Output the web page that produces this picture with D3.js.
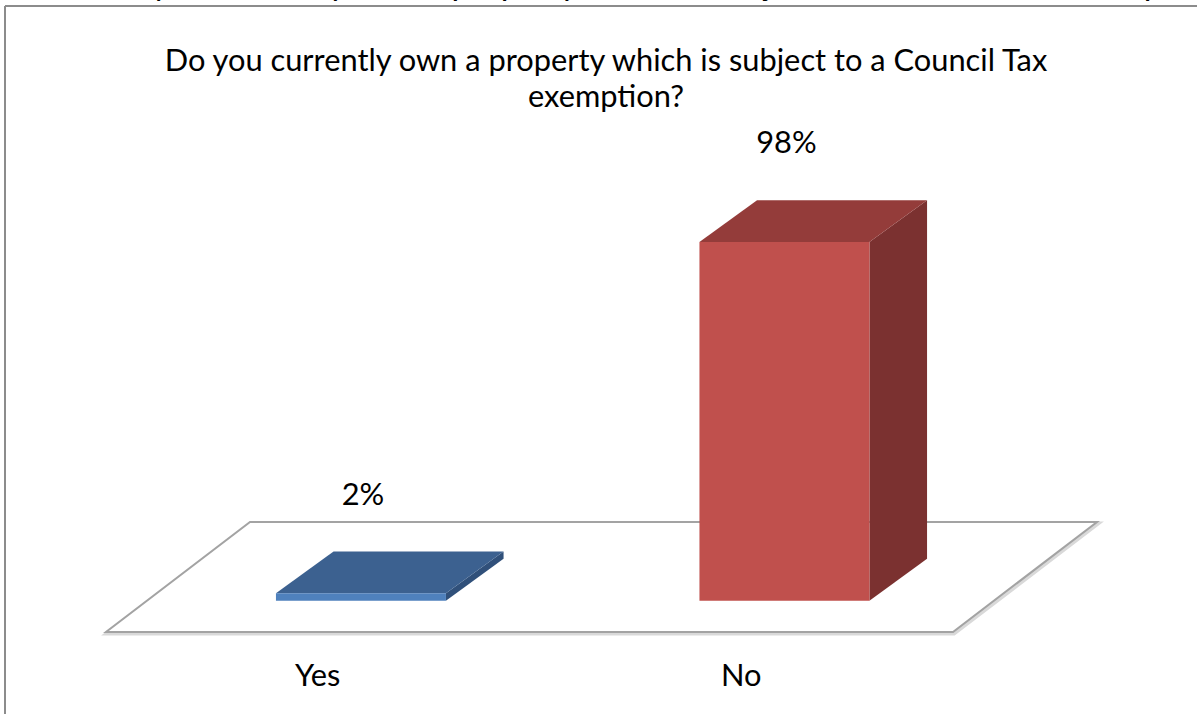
<!DOCTYPE html>
<html>
<head>
<meta charset="utf-8">
<script src="https://cdn.jsdelivr.net/npm/d3@7"></script>
<style>
html,body{margin:0;padding:0;background:#fff;}
svg{display:block;}
</style>
</head>
<body>
<svg id="chart" width="1197" height="714"></svg>
<script>
const categories = ["Yes", "No"];
const values = [2, 98];
const valueLabels = ["2%", "98%"];
const titleLines = ["Do you currently own a property which is subject to a Council Tax", "exemption?"];
const headerText = "Do you currently own a property which is subject to a Council Tax exemption?";

const FONT = "Lato, 'Open Sans', sans-serif";
const svg = d3.select("#chart");

// floor geometry
const floorLeft = 106, floorRight = 953, floorFrontY = 632;
const depthDX = 144, depthDY = 110;
const zFront = 0.30, zBack = 0.70;

const x = d3.scaleBand().domain(categories).range([floorLeft, floorRight]).paddingInner(0).paddingOuter(0);
const barW = 170;
const h = d3.scaleLinear().domain([0, 100]).range([0, 366]);

function proj(px, z, hh) { return [px + z * depthDX, floorFrontY - z * depthDY * 0.95 - hh]; }
function projFloor(px, z) { return [px + z * depthDX, floorFrontY - z * depthDY]; }

// clipped header text (from page above)
const header = svg.append("text").attr("x", 101).attr("y", -5)
  .attr("font-family", FONT).attr("fill", "#000").text(headerText);

// frame
svg.append("line").attr("x1", 5).attr("y1", 6).attr("x2", 1197).attr("y2", 6)
  .attr("stroke", "#8c8c8c").attr("stroke-width", 2);
svg.append("line").attr("x1", 5).attr("y1", 6).attr("x2", 5).attr("y2", 714)
  .attr("stroke", "#8c8c8c").attr("stroke-width", 2);

// title with width fitting
const title = svg.append("text").attr("text-anchor", "middle").attr("font-family", FONT).attr("fill", "#000");
const t1 = title.append("tspan").attr("x", 606).attr("y", 71).text(titleLines[0]);
title.append("tspan").attr("x", 606).attr("y", 107).text(titleLines[1]);
title.attr("font-size", 26);
const len = t1.node().getComputedTextLength();
const fs = 26 * 883 / len;
title.attr("font-size", fs);
header.attr("font-size", fs * 1.083);

// floor
const floorPts = [projFloor(floorLeft, 0), projFloor(floorRight, 0), projFloor(floorRight, 1), projFloor(floorLeft, 1)];
svg.append("polygon").attr("points", floorPts.map(p => p.join(",")).join(" "))
  .attr("fill", "none").attr("stroke", "#d9d9d9").attr("stroke-width", 4).attr("transform", "translate(1,1.5)");
svg.append("polygon").attr("points", floorPts.map(p => p.join(",")).join(" "))
  .attr("fill", "#fff").attr("stroke", "#a3a3a3").attr("stroke-width", 2);

const colors = [
  { front: "#4f81bd", top: "#3c6190", side: "#30507a" },
  { front: "#c0504d", top: "#943c3a", side: "#7b3130" }
];

const g = svg.append("g");
categories.forEach((c, i) => {
  const cx = x(c) + x.bandwidth() / 2;
  const x0 = cx - barW / 2, x1 = cx + barW / 2;
  const hh = h(values[i]);
  const col = colors[i];
  const poly = pts => pts.map(p => p.join(",")).join(" ");
  g.append("polygon").attr("points", poly([proj(x1, zFront, 0), proj(x1, zBack, 0), proj(x1, zBack, hh), proj(x1, zFront, hh)]))
    .attr("fill", col.side);
  g.append("polygon").attr("points", poly([proj(x0, zFront, hh), proj(x1, zFront, hh), proj(x1, zBack, hh), proj(x0, zBack, hh)]))
    .attr("fill", col.top);
  g.append("polygon").attr("points", poly([proj(x0, zFront, 0), proj(x1, zFront, 0), proj(x1, zFront, hh), proj(x0, zFront, hh)]))
    .attr("fill", col.front);
  const back = proj(cx, zBack, hh);
  const front = proj(cx, zFront, hh);
  svg.append("text").attr("x", front[0] + 2).attr("y", back[1] - 47)
    .attr("text-anchor", "middle").attr("font-family", FONT).attr("font-size", fs)
    .attr("fill", "#000").text(valueLabels[i]);
  svg.append("text").attr("x", cx).attr("y", 686)
    .attr("text-anchor", "middle").attr("font-family", FONT).attr("font-size", fs)
    .attr("fill", "#000").text(c);
});
</script>
</body>
</html>
